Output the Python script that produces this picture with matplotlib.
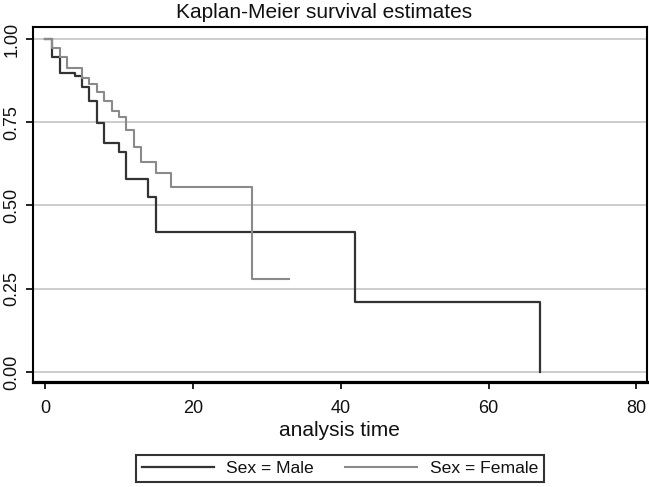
import numpy as np
import matplotlib
matplotlib.use("Agg")
import matplotlib.pyplot as plt

plt.rcParams['font.family'] = ['Liberation Sans', 'DejaVu Sans']

# Kaplan-Meier step values
male_t = [0, 1, 2, 4, 5, 6, 7, 8, 10, 11, 14, 15, 42, 67]
male_s = [1.0, 0.947, 0.897, 0.890, 0.857, 0.814, 0.747, 0.687, 0.660, 0.580, 0.526, 0.421, 0.211, 0.0]

female_t = [0, 1, 2, 3, 5, 6, 7, 8, 9, 10, 11, 12, 13, 15, 17, 28, 33]
female_s = [1.0, 0.974, 0.947, 0.912, 0.882, 0.864, 0.842, 0.814, 0.784, 0.767, 0.727, 0.677, 0.630, 0.599, 0.556, 0.278, 0.278]

xticks = [0, 20, 40, 60, 80]
yticks = [0.0, 0.25, 0.5, 0.75, 1.0]

fig = plt.figure(figsize=(6.49, 4.87), dpi=100)
ax = fig.add_axes([33/649, 1-381.7/487, (646.7-33)/649, (381.7-27.3)/487])

for y in yticks:
    ax.axhline(y, color='#c8c8c8', lw=1.3, zorder=0)

l1, = ax.step(male_t, male_s, where='post', color='#333333', lw=1.6, label='Sex = Male')
l2, = ax.step(female_t, female_s, where='post', color='#8a8a8a', lw=1.5, label='Sex = Female')

ax.set_xlim(-1.62, 81.4)
ax.set_ylim(-0.029, 1.035)
ax.set_xticks(xticks)
ax.set_yticks(yticks)
ax.set_yticklabels([f'{v:.2f}' for v in yticks], rotation=90, va='center')
ax.tick_params(axis='both', direction='out', length=5, width=1.3, labelsize=13, colors='#111111')
ax.tick_params(axis='x', pad=8)
ax.tick_params(axis='y', pad=4)
for s in ['top', 'right', 'left']:
    ax.spines[s].set_linewidth(1.5)
ax.spines['bottom'].set_linewidth(2.3)

ax.set_xlabel('analysis time', fontsize=15, labelpad=3, color='#111111')
fig.text(0.5, 1-12/487, 'Kaplan-Meier survival estimates', ha='center', va='center',
         fontsize=15, color='#111111')

leg = fig.legend(handles=[l1, l2], loc='center', bbox_to_anchor=(340/649, 1-468.4/487),
                 ncol=2, fontsize=12.6, frameon=True, fancybox=False, handlelength=4.1,
                 columnspacing=1.8, borderpad=0.35, handletextpad=0.72, borderaxespad=0,
                 edgecolor='black')
leg.get_frame().set_linewidth(1.5)
for t in leg.get_texts():
    t.set_color('#111111')

fig.savefig('out.png', dpi=100)
